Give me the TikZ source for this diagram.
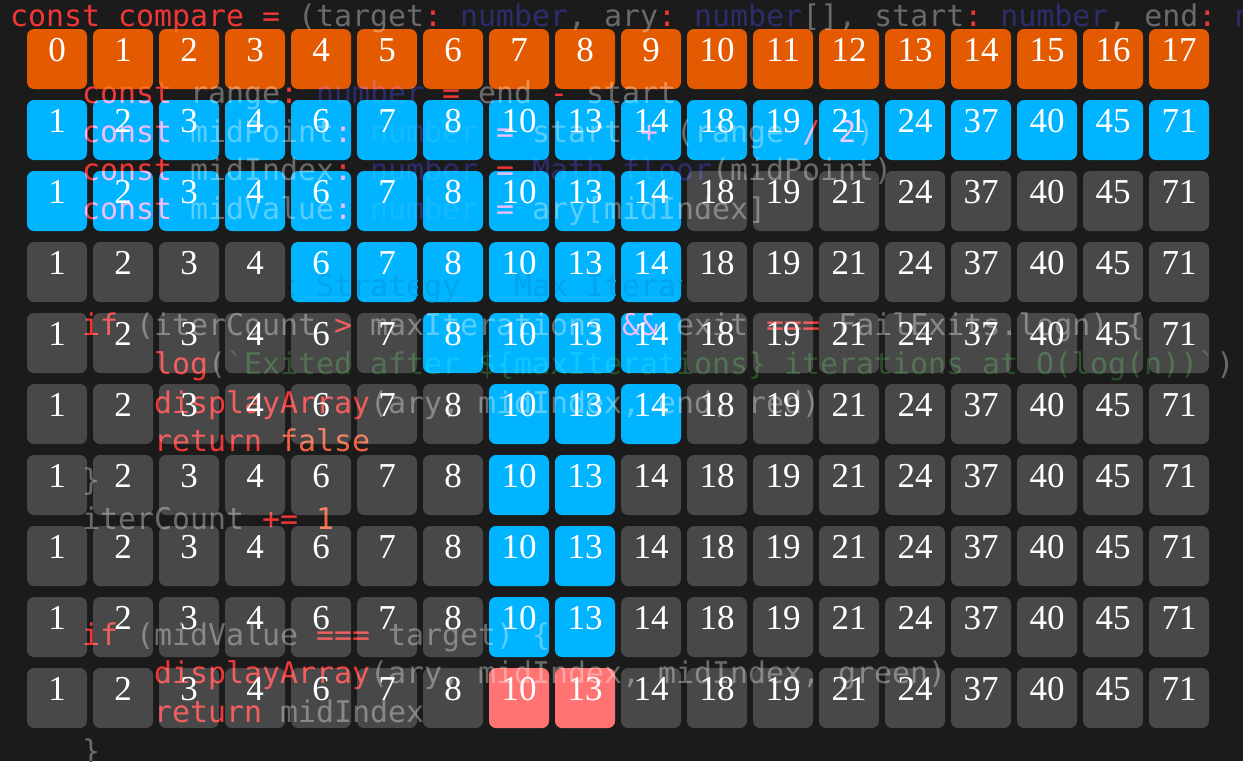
\documentclass[tikz,border=0pt]{standalone}
\usepackage{fontspec}
\setmonofont{DejaVu Sans Mono}
\newfontfamily\numfont{Liberation Serif}
\definecolor{bgc}{HTML}{1B1B1B}
\definecolor{cOrange}{HTML}{E35A00}
\definecolor{cBlue}{HTML}{00B4FF}
\definecolor{cGray}{HTML}{484848}
\definecolor{cSalmon}{HTML}{FF7373}
\definecolor{ckwc}{HTML}{EE1E1E}
\definecolor{cidc}{HTML}{585858}
\definecolor{ctyc}{HTML}{14145A}
\definecolor{cstc}{HTML}{103A10}
\definecolor{cltc}{HTML}{F05028}
\definecolor{ccmc}{HTML}{00A4EC}
\newcommand\ckw[1]{\textcolor{ckwc}{#1}}
\newcommand\cid[1]{\textcolor{cidc}{#1}}
\newcommand\cty[1]{\textcolor{ctyc}{#1}}
\newcommand\cst[1]{\textcolor{cstc}{#1}}
\newcommand\clt[1]{\textcolor{cltc}{#1}}
\begin{document}
\begin{tikzpicture}[x=1pt,y=-1pt,
  cell/.style={draw=none, rounded corners=7pt, minimum width=60pt, minimum height=60pt,
    inner sep=0pt, text=white, font=\numfont\fontsize{35}{35}\selectfont,
    text height=4pt, text depth=0pt},
  codeline/.style={anchor=base west, inner sep=0pt, font=\ttfamily\fontsize{29.9}{36}\selectfont},
  commentline/.style={codeline, text=ccmc}]
\useasboundingbox (0,0) rectangle (1243,761);
\fill[bgc] (0,0) rectangle (1243,761);
\clip (0,0) rectangle (1243,761);
% row 0: indices
\foreach \c in {0,...,17} {
  \node[cell, fill=cOrange] (n0-\c) at ({57+66*\c},59) {\c};
}
\def\vals{1,2,3,4,6,7,8,10,13,14,18,19,21,24,37,40,45,71}
\foreach \r/\lo/\hi/\col in {1/0/17/cBlue, 2/0/9/cBlue, 3/4/9/cBlue, 4/6/9/cBlue, 5/7/9/cBlue,
    6/7/8/cBlue, 7/7/8/cBlue, 8/7/8/cBlue, 9/7/8/cSalmon} {
  \foreach \v [count=\k from 0] in \vals {
    \ifnum\k<\lo \def\fc{cGray}\else\ifnum\k>\hi \def\fc{cGray}\else\edef\fc{\col}\fi\fi
    \node[cell, fill=\fc] (n\r-\k) at ({57+66*\k},{59+71*\r}) {\v};
  }
}
% faint comment (only shows on the blue cells)
\begin{scope}
\clip[rounded corners=7pt] foreach \k in {4,...,9} {({27+66*\k},242) rectangle ({87+66*\k},302)};
\node[commentline] (L7) at (82,{26+38.7*7}) {// Fail Exit Strategy : Max Iterations};
\end{scope}
% code overlay
\begin{scope}[blend mode=screen]
\node[codeline] (L0) at (10,26) {\ckw{const compare =} \cid{(target}\ckw{:} \cty{number}\cid{, ary}\ckw{:} \cty{number}\cid{[], start}\ckw{:} \cty{number}\cid{, end}\ckw{:} \cty{number}\cid{) => \{}};
\node[codeline] (L2) at (82,{26+38.7*2}) {\ckw{const} \cid{range}\ckw{:} \cty{number} \ckw{=} \cid{end} \ckw{-} \cid{start}};
\node[codeline] (L3) at (82,{26+38.7*3}) {\ckw{const} \cid{midPoint}\ckw{:} \cty{number} \ckw{=} \cid{start} \ckw{+} \cid{(range} \ckw{/} \clt{2}\cid{)}};
\node[codeline] (L4) at (82,{26+38.7*4}) {\ckw{const} \cid{midIndex}\ckw{:} \cty{number} \ckw{=} \cty{Math.floor}\cid{(midPoint)}};
\node[codeline] (L5) at (82,{26+38.7*5}) {\ckw{const} \cid{midValue}\ckw{:} \cty{number} \ckw{=} \cid{ary[midIndex]}};
\node[codeline] (L8) at (82,{26+38.7*8}) {\ckw{if} \cid{(iterCount} \ckw{>} \cid{maxIterations} \ckw{\&\&} \cid{exit} \ckw{===} \cid{FailExits.logn)} \cid{\{}};
\node[codeline] (L9) at (154,{26+38.7*9}) {\ckw{log}\cid{(}\cst{`Exited after \$\{maxIterations\} iterations at O(log(n))`}\cid{)}};
\node[codeline] (L10) at (154,{26+38.7*10}) {\ckw{displayArray}\cid{(ary, midIndex, end, red)}};
\node[codeline] (L11) at (154,{26+38.7*11}) {\ckw{return} \clt{false}};
\node[codeline] (L12) at (82,{26+38.7*12}) {\cid{\}}};
\node[codeline] (L13) at (82,{26+38.7*13}) {\cid{iterCount} \ckw{+=} \clt{1}};
\node[codeline] (L16) at (82,{26+38.7*16}) {\ckw{if} \cid{(midValue} \ckw{===} \cid{target)} \cid{\{}};
\node[codeline] (L17) at (154,{26+38.7*17}) {\ckw{displayArray}\cid{(ary, midIndex, midIndex, green)}};
\node[codeline] (L18) at (154,{26+38.7*18}) {\ckw{return} \cid{midIndex}};
\node[codeline] (L19) at (82,{26+38.7*19}) {\cid{\}}};
\end{scope}
\end{tikzpicture}
\end{document}
